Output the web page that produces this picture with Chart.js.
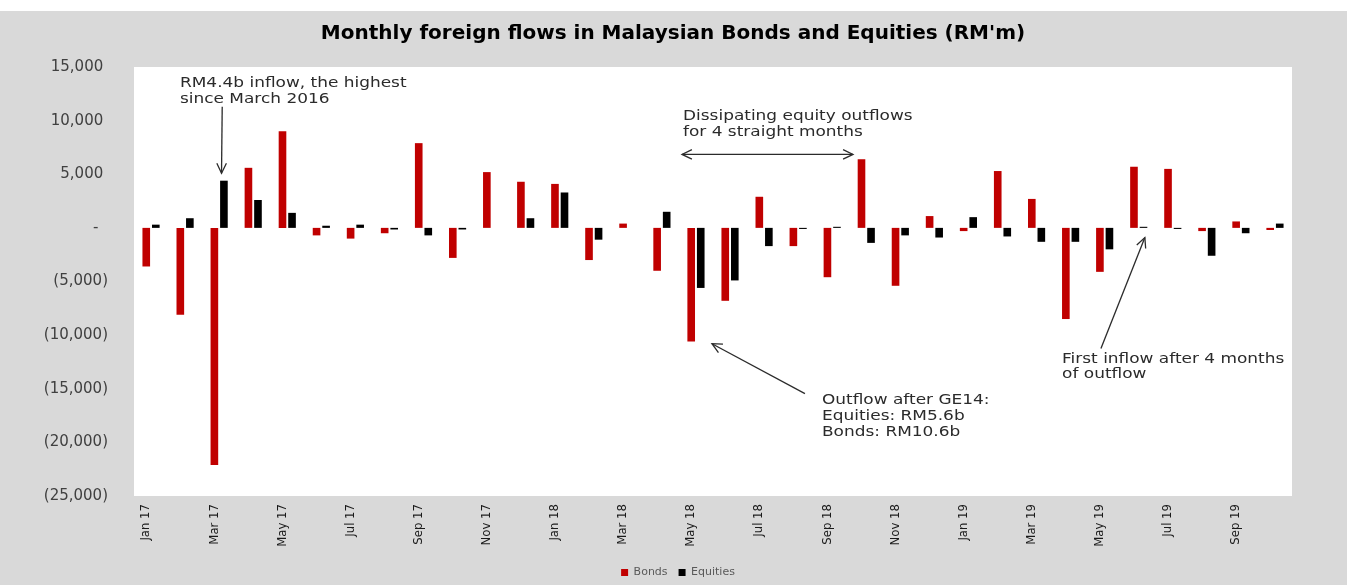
<!DOCTYPE html>
<html>
<head>
<meta charset="utf-8">
<script src="https://cdn.jsdelivr.net/npm/chart.js@4.4.1/dist/chart.umd.min.js"></script>
<style>
  html, body { margin: 0; padding: 0; background: #d9d9d9; }
  #wrap { width: 1347px; height: 585px; }
</style>
</head>
<body>
<div id="wrap"><canvas id="c" width="1347" height="585"></canvas></div>
<script>
// ---- data ----
const months = [
  'Jan 17','Feb 17','Mar 17','Apr 17','May 17','Jun 17','Jul 17','Aug 17','Sep 17','Oct 17','Nov 17','Dec 17',
  'Jan 18','Feb 18','Mar 18','Apr 18','May 18','Jun 18','Jul 18','Aug 18','Sep 18','Oct 18','Nov 18','Dec 18',
  'Jan 19','Feb 19','Mar 19','Apr 19','May 19','Jun 19','Jul 19','Aug 19','Sep 19','Oct 19'
];
const bonds = [
  -3600, -8100, -22100, 5600, 9000, -700, -1000, -500, 7900, -2800, 5200, 4300,
  4100, -3000, 400, -4000, -10600, -6800, 2900, -1700, -4600, 6400, -5400, 1100,
  -300, 5300, 2700, -8500, -4100, 5700, 5500, -300, 600, -200
];
const equities = [
  300, 900, 4400, 2600, 1400, 200, 300, -150, -700, -150, 0, 900,
  3300, -1100, 0, 1500, -5600, -4900, -1700, -100, 100, -1400, -700, -900,
  1000, -800, -1300, -1300, -2000, 100, -100, -2600, -500, 400
];
const yTicks = { min: -25000, max: 15000, step: 5000 };
const seriesNames = ['Bonds', 'Equities'];

// annotations anchored in data space: x = category index, y = value
const notes = [
  { lines: ['RM4.4b inflow, the highest', 'since March 2016'], x: 0.85, y: 13100, lh: 15.5 },
  { lines: ['Dissipating equity outflows', 'for 4 straight months'], x: 15.62, y: 10050, lh: 15.5 },
  { lines: ['Outflow after GE14:', 'Equities: RM5.6b', 'Bonds: RM10.6b'], x: 19.7, y: -16400, lh: 16 },
  { lines: ['First inflow after 4 months', 'of outflow'], x: 26.75, y: -12570, lh: 15.5 }
];
const arrows = [
  { from: [2.09, 11300], to: [2.07, 5100], both: false },
  { from: [15.59, 6850], to: [20.61, 6850], both: true },
  { from: [19.2, -15450], to: [16.47, -10800], both: false },
  { from: [27.89, -11250], to: [29.18, -900], both: false }
];

const fmt = n => n.toLocaleString('en-US');

const bgPlugin = {
  id: 'bg',
  afterLayout(chart) {
    // Excel centres title and legend slightly right of the canvas centre
    const lg = chart.legend;
    if (lg) { lg.left += 32; lg.right += 32; lg.top += 3; lg.bottom += 3; }
    const tb = chart.titleBlock;
    if (tb) { tb.left += 27; tb.right += 27; }
  },
  beforeDraw(chart) {
    const { ctx, chartArea: a, width, height } = chart;
    ctx.save();
    ctx.fillStyle = '#d9d9d9';
    ctx.fillRect(0, 0, width, height);
    ctx.fillStyle = '#ffffff';
    ctx.fillRect(0, 0, width, 11);
    ctx.fillRect(a.left, a.top, a.right - a.left, a.bottom - a.top);
    ctx.restore();
  }
};

function arrowHead(ctx, x1, y1, x2, y2) {
  const ang = Math.atan2(y2 - y1, x2 - x1);
  const len = 11, spread = 0.45;
  ctx.beginPath();
  ctx.moveTo(x2 - len * Math.cos(ang - spread), y2 - len * Math.sin(ang - spread));
  ctx.lineTo(x2, y2);
  ctx.lineTo(x2 - len * Math.cos(ang + spread), y2 - len * Math.sin(ang + spread));
  ctx.stroke();
}

const notePlugin = {
  id: 'notes',
  afterDatasetsDraw(chart) {
    const { ctx, scales: { x, y } } = chart;
    const step = x.getPixelForValue(1) - x.getPixelForValue(0);
    const px = i => x.getPixelForValue(0) + i * step;
    ctx.save();
    ctx.fillStyle = '#2b2b2b';
    ctx.font = '14px "DejaVu Sans"';
    ctx.textAlign = 'left';
    ctx.textBaseline = 'alphabetic';
    notes.forEach(n => {
      const x0 = px(n.x), y0 = y.getPixelForValue(n.y);
      n.lines.forEach((t, k) => {
        ctx.save();
        ctx.translate(x0, y0 + k * n.lh);
        ctx.scale(1.21, 1);
        ctx.fillText(t, 0, 0);
        ctx.restore();
      });
    });
    ctx.strokeStyle = '#2b2b2b';
    ctx.lineWidth = 1.3;
    arrows.forEach(a => {
      const x1 = px(a.from[0]), y1 = y.getPixelForValue(a.from[1]);
      const x2 = px(a.to[0]), y2 = y.getPixelForValue(a.to[1]);
      ctx.beginPath();
      ctx.moveTo(x1, y1);
      ctx.lineTo(x2, y2);
      ctx.stroke();
      arrowHead(ctx, x1, y1, x2, y2);
      if (a.both) arrowHead(ctx, x2, y2, x1, y1);
    });
    ctx.restore();
  }
};

new Chart(document.getElementById('c'), {
  type: 'bar',
  data: {
    labels: months,
    datasets: [
      { label: seriesNames[0], data: bonds, backgroundColor: '#c00000', categoryPercentage: 0.56, barPercentage: 0.8 },
      { label: seriesNames[1], data: equities, backgroundColor: '#000000', categoryPercentage: 0.56, barPercentage: 0.8 }
    ]
  },
  options: {
    responsive: false,
    animation: false,
    layout: { padding: { left: 0, right: 55, top: 0, bottom: 0 } },
    plugins: {
      title: {
        display: true,
        text: "Monthly foreign flows in Malaysian Bonds and Equities (RM'm)",
        color: '#000000',
        font: { family: '"DejaVu Sans"', size: 20, weight: 'bold' },
        padding: { top: 22, bottom: 21 }
      },
      legend: {
        position: 'bottom',
        labels: {
          color: '#595959',
          font: { family: '"DejaVu Sans"', size: 11 },
          boxWidth: 7, boxHeight: 7, padding: 4,
          generateLabels(chart) {
            const items = Chart.defaults.plugins.legend.labels.generateLabels(chart);
            items.forEach((it, k) => { if (k < items.length - 1) it.text += '  '; });
            return items;
          }
        }
      },
      tooltip: { enabled: false }
    },
    scales: {
      x: {
        grid: { display: false },
        border: { display: false },
        ticks: {
          autoSkip: false, maxRotation: 90, minRotation: 90, padding: 0, labelOffset: -5,
          color: '#1a1a1a',
          font: { family: '"DejaVu Sans Condensed", "Liberation Sans"', size: 13 },
          callback: (v, i) => (i % 2 === 0 ? months[i] : '')
        },
        afterFit(s) { s.height = 64; }
      },
      y: {
        min: yTicks.min, max: yTicks.max,
        grid: { display: false },
        border: { display: false },
        ticks: {
          stepSize: yTicks.step, padding: 18,
          color: '#404040',
          font: { family: '"DejaVu Sans"', size: 15 },
          callback: v => v === 0 ? '-  ' : (v < 0 ? '(' + fmt(-v) + ')' : fmt(v) + ' ')
        },
        afterFit(s) { s.width = 134; }
      }
    }
  },
  plugins: [bgPlugin, notePlugin]
});
</script>
</body>
</html>
